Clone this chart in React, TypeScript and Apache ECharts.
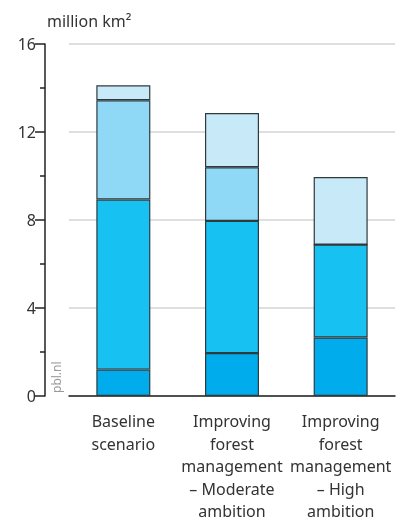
import React, { useEffect, useRef } from "react";
import * as echarts from "echarts";

const categories = [
  "Baseline\nscenario",
  "Improving\nforest\nmanagement\n– Moderate\nambition",
  "Improving\nforest\nmanagement\n– High\nambition",
];
const segment1 = [1.2, 1.95, 2.66];
const segment2 = [7.73, 6.01, 4.22];
const segment3 = [4.51, 2.44, 0];
const segment4 = [0.68, 2.46, 3.07];
const yTicks = [0, 4, 8, 12, 16];

const colors = ["#00acec", "#17c1f2", "#8fd8f6", "#c8e9f8"];
const FONT = "Noto Sans";

export default function App() {
  const ref = useRef<HTMLDivElement>(null);
  useEffect(() => {
    if (!ref.current) return;
    const chart = echarts.init(ref.current, null, { renderer: "svg" });
    const seriesData = [segment1, segment2, segment3, segment4];
    chart.setOption({
      animation: false,
      textStyle: { fontFamily: FONT },
      grid: {
        left: 69,
        right: 6,
        top: 44,
        bottom: 126,
        containLabel: false,
        outerBoundsMode: "none",
      },
      xAxis: {
        type: "category",
        data: categories,
        axisLine: { show: true, lineStyle: { color: "#222", width: 1.5 } },
        axisTick: { show: false },
        axisLabel: {
          fontSize: 16,
          lineHeight: 22.5,
          color: "#333",
          margin: 14,
          interval: 0,
          fontFamily: FONT,
        },
      },
      yAxis: {
        type: "value",
        min: yTicks[0],
        max: yTicks[yTicks.length - 1],
        interval: 4,
        offset: 24,
        axisLine: { show: true, lineStyle: { color: "#222", width: 1.5 } },
        axisTick: { show: true, length: 10, lineStyle: { color: "#222", width: 1.5 } },
        minorTick: { show: true, splitNumber: 2, length: 5, lineStyle: { color: "#222", width: 1.5 } },
        axisLabel: { fontSize: 16, color: "#333", margin: 9, fontFamily: FONT },
        splitLine: { show: true, lineStyle: { color: "#d4d4d4", width: 1.5 } },
      },
      graphic: [
        {
          type: "text",
          left: 47,
          top: 13,
          style: { text: "million km²", fontSize: 16, fill: "#333", fontFamily: FONT },
        },
        {
          type: "text",
          x: 50,
          y: 393,
          rotation: Math.PI / 2,
          style: { text: "pbl.nl", fontSize: 12, fill: "#9a9a9a", fontFamily: FONT },
        },
      ],
      series: seriesData.map((d, i) => ({
        type: "bar",
        name: "Segment " + (i + 1),
        stack: "total",
        barWidth: 54,
        data: d,
        itemStyle: { color: colors[i], borderColor: "#2f3a3f", borderWidth: 1.2 },
      })),
    });
    return () => chart.dispose();
  }, []);
  return (
    <div
      ref={ref}
      style={{ position: "fixed", left: 0, top: 0, width: 401, height: 522 }}
    />
  );
}
